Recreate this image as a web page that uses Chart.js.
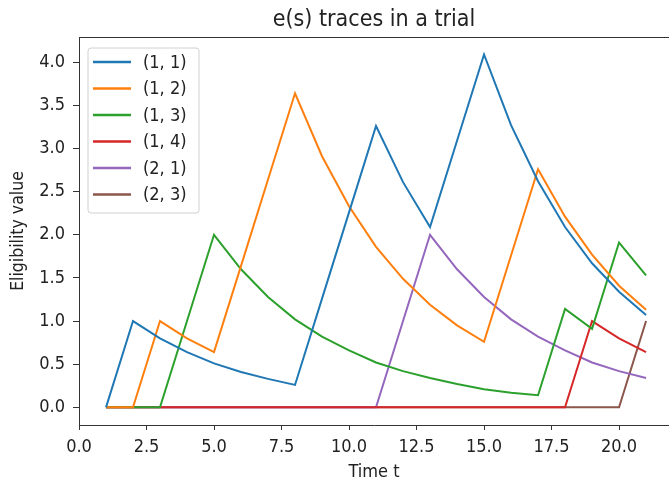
<!DOCTYPE html>
<html>
<head>
<meta charset="utf-8">
<script src="https://cdn.jsdelivr.net/npm/chart.js@4/dist/chart.umd.min.js"></script>
<style>
  html, body { margin: 0; padding: 0; background: #fff; overflow: hidden; }
  #wrap { width: 669px; height: 483px; }
</style>
</head>
<body>
<div id="wrap"><canvas id="myChart"></canvas></div>
<script>
// time steps
var times = [1,2,3,4,5,6,7,8,9,10,11,12,13,14,15,16,17,18,19,20,21];

// eligibility values per state
var e11 = [0, 1.0, 0.8, 0.64, 0.51, 0.41, 0.33, 0.26, 1.26, 2.26, 3.26, 2.61, 2.09, 3.09, 4.09, 3.27, 2.62, 2.09, 1.67, 1.34, 1.07];
var e12 = [0, 0, 1.0, 0.8, 0.64, 1.64, 2.64, 3.64, 2.91, 2.33, 1.86, 1.49, 1.19, 0.95, 0.76, 1.76, 2.76, 2.21, 1.77, 1.41, 1.13];
var e13 = [0, 0, 0, 1.0, 2.0, 1.6, 1.28, 1.02, 0.82, 0.66, 0.52, 0.42, 0.34, 0.27, 0.21, 0.17, 0.14, 1.14, 0.91, 1.91, 1.53];
var e14 = [0, 0, 0, 0, 0, 0, 0, 0, 0, 0, 0, 0, 0, 0, 0, 0, 0, 0, 1.0, 0.8, 0.64];
var e21 = [0, 0, 0, 0, 0, 0, 0, 0, 0, 0, 0, 1.0, 2.0, 1.6, 1.28, 1.02, 0.82, 0.66, 0.52, 0.42, 0.34];
var e23 = [0, 0, 0, 0, 0, 0, 0, 0, 0, 0, 0, 0, 0, 0, 0, 0, 0, 0, 0, 0, 1.0];

var seriesNames = ["(1, 1)", "(1, 2)", "(1, 3)", "(1, 4)", "(2, 1)", "(2, 3)"];
var seriesValues = [e11, e12, e13, e14, e21, e23];
var colors = ["#1f77b4", "#ff7f0e", "#2ca02c", "#d62728", "#9467bd", "#8c564b"];

var xTicks = [0, 2.5, 5, 7.5, 10, 12.5, 15, 17.5, 20];
var yTicks = [0, 0.5, 1, 1.5, 2, 2.5, 3, 3.5, 4];

var FONT = "'DejaVu Sans Condensed', 'DejaVu Sans', sans-serif";
var TXT = "#222";

var datasets = seriesNames.map(function (name, k) {
  return {
    label: name,
    data: seriesValues[k].map(function (v, i) { return { x: times[i], y: v }; }),
    borderColor: colors[k],
    backgroundColor: colors[k],
    borderWidth: 2,
    pointRadius: 0,
    tension: 0,
    fill: false
  };
});

// matplotlib-like legend box in the upper left + top spine
var boxLegend = {
  id: "boxLegend",
  afterDatasetsDraw: function (chart) {
    var ctx = chart.ctx;
    var a = chart.chartArea;
    ctx.save();
    // top spine
    ctx.strokeStyle = "#333";
    ctx.lineWidth = 1;
    ctx.beginPath();
    ctx.moveTo(a.left, a.top + 0.5);
    ctx.lineTo(a.right, a.top + 0.5);
    ctx.stroke();

    var x0 = a.left + 9, y0 = a.top + 11, w = 111, h = 165, r = 3;
    ctx.beginPath();
    ctx.moveTo(x0 + r, y0);
    ctx.arcTo(x0 + w, y0, x0 + w, y0 + h, r);
    ctx.arcTo(x0 + w, y0 + h, x0, y0 + h, r);
    ctx.arcTo(x0, y0 + h, x0, y0, r);
    ctx.arcTo(x0, y0, x0 + w, y0, r);
    ctx.closePath();
    ctx.fillStyle = "rgba(255,255,255,0.8)";
    ctx.fill();
    ctx.strokeStyle = "#d0d0d0";
    ctx.stroke();

    ctx.font = "18px " + FONT;
    ctx.textBaseline = "middle";
    ctx.fillStyle = TXT;
    chart.data.datasets.forEach(function (ds, i) {
      var yy = y0 + 14 + i * 26.5;
      ctx.strokeStyle = ds.borderColor;
      ctx.lineWidth = 2.5;
      ctx.beginPath();
      ctx.moveTo(x0 + 5, yy);
      ctx.lineTo(x0 + 43, yy);
      ctx.stroke();
      ctx.fillText(ds.label, x0 + 55, yy + 1);
    });
    ctx.restore();
  }
};

var config = {
  type: "line",
  data: { datasets: datasets },
  options: {
    responsive: true,
    maintainAspectRatio: false,
    animation: false,
    devicePixelRatio: 1,
    layout: { padding: { left: 0, right: 0, top: 0, bottom: 0 } },
    plugins: {
      legend: { display: false },
      tooltip: { enabled: false },
      title: {
        display: true,
        fullSize: false,
        text: "e(s) traces in a trial",
        color: TXT,
        font: { family: FONT, size: 23, weight: "normal" },
        padding: { top: 6, bottom: 3.4 }
      }
    },
    scales: {
      x: {
        type: "linear",
        min: 0,
        max: 21.85,
        afterBuildTicks: function (scale) {
          scale.ticks = xTicks.map(function (v) { return { value: v }; });
        },
        afterFit: function (scale) { scale.height = 58; },
        ticks: {
          color: TXT,
          padding: 7,
          maxRotation: 0,
          font: { family: FONT, size: 18 },
          callback: function (v) { return v.toFixed(1); }
        },
        grid: { display: true, drawOnChartArea: false, drawTicks: true, tickLength: 5, tickColor: "#333" },
        border: { display: true, color: "#333", width: 1 },
        title: {
          display: true,
          text: "Time t",
          color: TXT,
          font: { family: FONT, size: 18 },
          padding: { top: 0, bottom: 0 }
        }
      },
      y: {
        type: "linear",
        min: -0.2044,
        max: 4.292,
        afterBuildTicks: function (scale) {
          scale.ticks = yTicks.map(function (v) { return { value: v }; });
        },
        afterFit: function (scale) { scale.width = 79; },
        ticks: {
          color: TXT,
          padding: 8,
          font: { family: FONT, size: 18 },
          callback: function (v) { return v.toFixed(1); }
        },
        grid: { display: true, drawOnChartArea: false, drawTicks: true, tickLength: 6, tickColor: "#333" },
        border: { display: true, color: "#333", width: 1 },
        title: {
          display: true,
          text: "Eligibility value",
          color: TXT,
          font: { family: FONT, size: 17.5 },
          padding: { top: 8, bottom: 0 }
        }
      }
    }
  },
  plugins: [boxLegend]
};

var myChart = new Chart(document.getElementById("myChart"), config);
</script>
</body>
</html>
